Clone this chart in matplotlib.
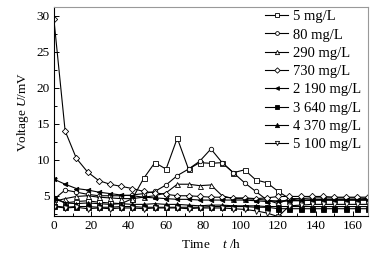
import numpy as np
import matplotlib
matplotlib.use("Agg")
import matplotlib.pyplot as plt
from matplotlib.ticker import MultipleLocator

plt.rcParams['font.family'] = ['Liberation Serif', 'DejaVu Serif']
plt.rcParams['mathtext.fontset'] = 'custom'
plt.rcParams['mathtext.rm'] = 'Liberation Serif'
plt.rcParams['mathtext.it'] = 'Liberation Serif:italic'

t = list(range(0, 169, 6))

s5 = [4.6, 4.0, 4.2, 4.3, 4.1, 4.0, 3.9, 4.6, 7.4, 9.6, 8.7, 13.0, 8.7, 9.6, 9.5, 9.6, 8.2, 8.6, 7.2, 6.8, 5.6, 4.6, 4.3, 4.4, 4.5, 4.5, 4.5, 4.5, 4.5]
s80 = [4.5, 5.8, 5.5, 5.2, 5.0, 5.0, 5.0, 5.1, 5.3, 5.6, 6.5, 7.8, 8.7, 9.8, 11.5, 9.6, 8.2, 6.8, 5.6, 4.4, 3.9, 4.6, 4.6, 4.7, 4.7, 4.7, 4.7, 4.7, 4.6]
s290 = [4.2, 4.6, 4.9, 5.0, 4.8, 4.7, 4.6, 4.6, 4.8, 5.0, 5.4, 6.6, 6.6, 6.4, 6.5, 5.0, 4.6, 4.6, 4.5, 4.4, 4.2, 4.3, 4.3, 4.4, 4.4, 4.4, 4.4, 4.4, 4.4]
s730 = [29.5, 14.0, 10.2, 8.3, 7.1, 6.6, 6.3, 6.0, 5.6, 5.4, 5.2, 5.0, 5.0, 4.9, 4.8, 4.8, 4.7, 4.7, 4.6, 4.7, 4.9, 4.9, 4.9, 4.9, 4.9, 4.8, 4.8, 4.8, 4.8]
s2190 = [7.3, 6.6, 6.0, 5.8, 5.5, 5.3, 5.1, 5.0, 4.8, 4.7, 4.6, 4.5, 4.5, 4.4, 4.4, 4.4, 4.4, 4.4, 4.3, 4.2, 4.3, 4.3, 4.4, 4.4, 4.4, 4.4, 4.4, 4.4, 4.4]
s3640 = [3.6, 3.4, 3.5, 3.5, 3.4, 3.4, 3.5, 3.5, 3.4, 3.4, 3.4, 3.4, 3.4, 3.4, 3.5, 3.5, 3.5, 3.5, 3.4, 3.4, 3.2, 3.2, 3.2, 3.2, 3.2, 3.2, 3.2, 3.2, 3.2]
s4370 = [4.8, 4.0, 3.9, 4.0, 3.9, 3.8, 3.9, 3.8, 3.8, 3.9, 3.8, 3.8, 3.7, 3.6, 3.7, 3.7, 3.6, 3.6, 3.6, 3.5, 3.5, 3.5, 3.5, 3.5, 3.5, 3.5, 3.5, 3.5, 3.5]
s5100 = [3.5, 3.3, 3.4, 3.2, 3.3, 3.2, 3.3, 3.3, 3.2, 3.3, 3.3, 3.3, 3.2, 3.3, 3.3, 3.3, 3.2, 3.1, 2.9, 2.6, 2.1, 3.6, 3.7, 3.8, 3.8, 3.8, 3.8, 3.8, 3.8]

labels = ["5 mg/L", "80 mg/L", "290 mg/L", "730 mg/L", "2 190 mg/L", "3 640 mg/L", "4 370 mg/L", "5 100 mg/L"]
series = [s5, s80, s290, s730, s2190, s3640, s4370, s5100]
markers = ['s', 'o', '^', 'D', '<', 's', '^', 'v']
fills = ['white', 'white', 'white', 'white', 'black', 'black', 'black', 'white']
msizes = [3.6, 3.2, 3.6, 3.2, 3.2, 3.6, 3.6, 3.6]

fig = plt.figure(figsize=(3.77, 2.54), dpi=100)
ax = fig.add_axes([0.143, 0.150, 0.833, 0.822])

for y, lab, m, fc, ms in zip(series, labels, markers, fills, msizes):
    ax.plot(t, y, color='black', lw=0.8, marker=m, markersize=ms,
            markerfacecolor=fc, markeredgecolor='black', markeredgewidth=0.6,
            label=lab, clip_on=True)

ax.set_xlim(0, 168)
ax.set_ylim(2.2, 31.2)
ax.xaxis.set_major_locator(MultipleLocator(20))
ax.xaxis.set_minor_locator(MultipleLocator(10))
ax.yaxis.set_major_locator(MultipleLocator(5))
ax.yaxis.set_minor_locator(MultipleLocator(2.5))
ax.tick_params(which='both', direction='in', labelsize=9.5, width=0.7)
ax.tick_params(which='major', length=3.5, pad=3)
ax.tick_params(which='minor', length=2)
for side in ['top', 'right']:
    ax.spines[side].set_color('#999999')
for side in ['left', 'bottom']:
    ax.spines[side].set_linewidth(0.8)

ax.set_xlabel("Time    $t$ /h", fontsize=9.5, labelpad=4)
ax.set_ylabel("Voltage $U$/mV", fontsize=9.5, labelpad=4)

fig.legend(loc='upper left', bbox_to_anchor=(265 / 377, 1 - 10 / 254), frameon=False,
           fontsize=10.5, handlelength=1.6, handletextpad=0.3, labelspacing=0.35,
           borderpad=0, borderaxespad=0, markerscale=0.85)

fig.savefig("out.png", dpi=100)
